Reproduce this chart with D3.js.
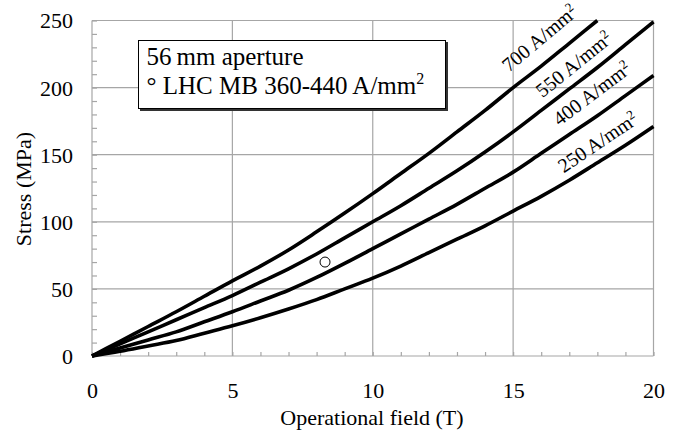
<!DOCTYPE html>
<html>
<head>
<meta charset="utf-8">
<script src="https://cdn.jsdelivr.net/npm/d3@7"></script>
<style>
  html, body { margin: 0; padding: 0; background: #fff; }
  svg { display: block; }
  svg text { font-family: "Liberation Serif", "DejaVu Serif", serif; fill: #000; }
</style>
</head>
<body>
<svg id="chart" width="678" height="432"></svg>
<script>
// Operational field (T) sampled at each tesla
const fieldT = [0,1,2,3,4,5,6,7,8,9,10,11,12,13,14,15,16,17,18,19,20];

// Stress (MPa) for each current density
const stress700 = [0,11,22,33,44.5,56,67,79,92.5,106.5,121,136,151,167,183,200,216,233,250];
const stress550 = [0,9,18,27,36,45,55,65,76,88,100,112,125,138,152,167,183,199,215,232,249];
const stress400 = [0,6,12,18,25.5,33,41,49,58.5,69,80,91,102,113,125,137,151,165,179,194,209];
const stress250 = [0,3.5,7.5,11.5,17,22.5,28.5,35,42,50,58,67,77,87,97,108,119,131,144,157,171];

const seriesLabels = ["700 A/mm", "550 A/mm", "400 A/mm", "250 A/mm"];

// LHC main dipole operating point
const lhcPoint = [8.3, 70];

const xTicks = [0, 5, 10, 15, 20];
const yTicks = [0, 50, 100, 150, 200, 250];

const svg = d3.select("#chart");
const plotL = 92, plotR = 653.5, plotT = 20.5, plotB = 356;
const serif = '"Liberation Serif", "DejaVu Serif", serif';

const x = d3.scaleLinear().domain([0, 20]).range([plotL, plotR]);
const y = d3.scaleLinear().domain([0, 250]).range([plotB, plotT]);

const gridColor = "#a6a6a6";

// grid lines
const grid = svg.append("g");
grid.selectAll("line.vx").data(xTicks).join("line")
  .attr("x1", d => x(d)).attr("x2", d => x(d))
  .attr("y1", plotT).attr("y2", plotB)
  .attr("stroke", gridColor).attr("stroke-width", 1.2);
grid.selectAll("line.hy").data(yTicks).join("line")
  .attr("x1", plotL).attr("x2", plotR)
  .attr("y1", d => y(d)).attr("y2", d => y(d))
  .attr("stroke", gridColor).attr("stroke-width", 1.2);

// minor ticks, pointing into the plot
const xMinor = d3.axisTop(x).tickValues(d3.range(0, 21, 1)).tickSize(4).tickFormat("");
const gxm = svg.append("g").attr("transform", `translate(0,${plotB})`).call(xMinor);
gxm.select(".domain").remove();
gxm.selectAll("line").attr("stroke", gridColor).attr("stroke-width", 1.2);

const yMinor = d3.axisRight(y).tickValues(d3.range(0, 251, 10)).tickSize(5).tickFormat("");
const gym = svg.append("g").attr("transform", `translate(${plotL},0)`).call(yMinor);
gym.select(".domain").remove();
gym.selectAll("line").attr("stroke", gridColor).attr("stroke-width", 1.2);

// tick labels
const xAxis = d3.axisBottom(x).tickValues(xTicks).tickSize(0).tickPadding(0).tickFormat(d3.format("d"));
const gx = svg.append("g").attr("transform", `translate(0,${plotB})`).call(xAxis)
  .attr("font-family", serif).attr("font-size", 22);
gx.select(".domain").remove();
gx.selectAll("text").attr("dy", null).attr("y", 42).attr("fill", "#000");

const yAxis = d3.axisLeft(y).tickValues(yTicks).tickSize(0).tickPadding(19).tickFormat(d3.format("d"));
const gy = svg.append("g").attr("transform", `translate(${plotL},0)`).call(yAxis)
  .attr("font-family", serif).attr("font-size", 22);
gy.select(".domain").remove();
gy.selectAll("text").attr("dy", "0.34em").attr("fill", "#000");

// axis titles
svg.append("text").attr("x", 372).attr("y", 425)
  .attr("text-anchor", "middle").attr("font-size", 22).text("Operational field (T)");
svg.append("text").attr("transform", `translate(31,189) rotate(-90)`)
  .attr("text-anchor", "middle").attr("font-size", 22).text("Stress (MPa)");

// curves
const allSeries = [stress700, stress550, stress400, stress250];
const line = d3.line().x((d, i) => x(fieldT[i])).y(d => y(d)).curve(d3.curveMonotoneX);
svg.append("g").selectAll("path").data(allSeries).join("path")
  .attr("d", line)
  .attr("fill", "none").attr("stroke", "#000")
  .attr("stroke-width", 3.6).attr("stroke-linejoin", "round");

// curve labels along the upper ends
const labelPos = [
  { t: 14.85, s: 211, a: -40 },
  { t: 16.05, s: 192, a: -39 },
  { t: 16.65, s: 171, a: -37 },
  { t: 16.8, s: 136, a: -34 }
];
seriesLabels.forEach((lab, i) => {
  const p = labelPos[i];
  const t = svg.append("text")
    .attr("transform", `translate(${x(p.t)},${y(p.s)}) rotate(${p.a})`)
    .attr("font-size", 20);
  t.append("tspan").text(lab);
  t.append("tspan").attr("dy", -7).attr("font-size", 13).text("2");
});

// LHC operating point
svg.append("circle").attr("cx", x(lhcPoint[0])).attr("cy", y(lhcPoint[1])).attr("r", 5)
  .attr("fill", "#fff").attr("stroke", "#000").attr("stroke-width", 1);

// legend box with shadow
const lg = svg.append("g");
lg.append("rect").attr("x", 140).attr("y", 42).attr("width", 308).attr("height", 69).attr("fill", "#333");
lg.append("rect").attr("x", 138.5).attr("y", 40.5).attr("width", 307).attr("height", 68)
  .attr("fill", "#fff").attr("stroke", "#000").attr("stroke-width", 1);
lg.append("text").attr("x", 146.5).attr("y", 65).attr("font-size", 25)
  .text("56\u2009mm aperture");
const l2 = lg.append("text").attr("x", 146.5).attr("y", 94).attr("font-size", 25);
l2.append("tspan").text("\u00B0 LHC MB 360-440 A/mm");
l2.append("tspan").attr("dy", -10).attr("font-size", 16).text("2");
</script>
</body>
</html>
